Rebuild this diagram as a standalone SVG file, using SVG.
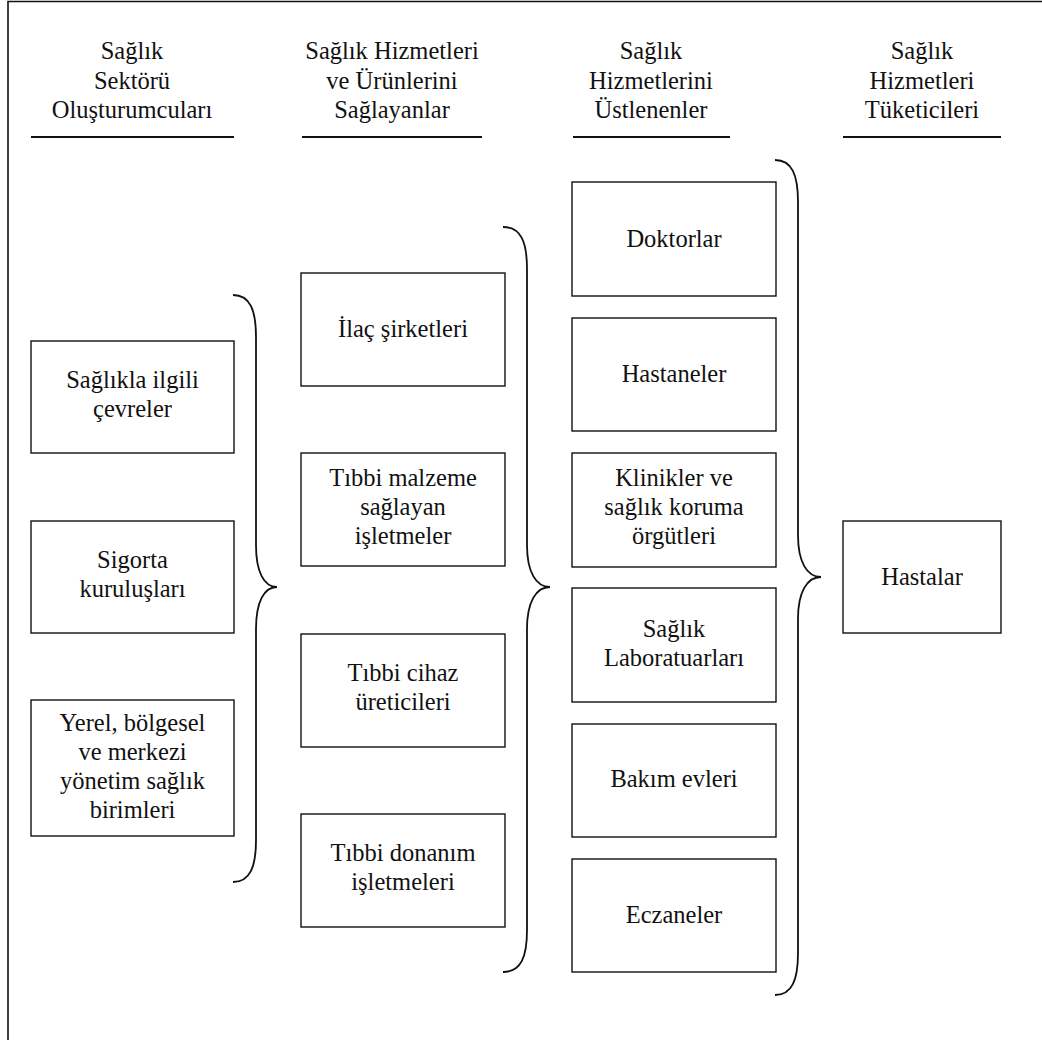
<svg xmlns="http://www.w3.org/2000/svg" width="1042" height="1040" viewBox="0 0 1042 1040">
<style>
text{font-family:'Liberation Serif','Times New Roman',serif;font-size:24.5px;fill:#111;text-anchor:middle}
.box{fill:#fff;stroke:#111;stroke-width:1.4}
.ul{stroke:#111;stroke-width:2}
.brace{fill:none;stroke:#111;stroke-width:1.8}
.frame{fill:none;stroke:#111;stroke-width:1.6}
</style>
<rect width="1042" height="1040" fill="#fff"/>
<path class="frame" d="M8 1040 V1.5 H1042"/>
<g id="header1"><text x="132" y="59">Sağlık</text><text x="132" y="89">Sektörü</text><text x="132" y="118">Oluşturumcuları</text><line class="ul" x1="31" y1="137" x2="234" y2="137"/></g>
<g id="header2"><text x="392" y="59">Sağlık Hizmetleri</text><text x="392" y="89">ve Ürünlerini</text><text x="392" y="118">Sağlayanlar</text><line class="ul" x1="302" y1="137" x2="482" y2="137"/></g>
<g id="header3"><text x="651" y="59">Sağlık</text><text x="651" y="89">Hizmetlerini</text><text x="651" y="118">Üstlenenler</text><line class="ul" x1="573" y1="137" x2="730" y2="137"/></g>
<g id="header4"><text x="922" y="59">Sağlık</text><text x="922" y="89">Hizmetleri</text><text x="922" y="118">Tüketicileri</text><line class="ul" x1="843" y1="137" x2="1001" y2="137"/></g>

<g id="n-saglikla"><rect class="box" x="31" y="341" width="203" height="112"/><text x="132.5" y="388">Sağlıkla ilgili</text><text x="132.5" y="417">çevreler</text></g>
<g id="n-sigorta"><rect class="box" x="31" y="521" width="203" height="112"/><text x="132.5" y="568">Sigorta</text><text x="132.5" y="597">kuruluşları</text></g>
<g id="n-yerel"><rect class="box" x="31" y="700" width="203" height="136"/><text x="132.5" y="731">Yerel, bölgesel</text><text x="132.5" y="760">ve merkezi</text><text x="132.5" y="789">yönetim sağlık</text><text x="132.5" y="818">birimleri</text></g>

<g id="n-ilac"><rect class="box" x="301" y="273" width="204" height="113"/><text x="403" y="337">İlaç şirketleri</text></g>
<g id="n-malzeme"><rect class="box" x="301" y="453" width="204" height="113"/><text x="403" y="486">Tıbbi malzeme</text><text x="403" y="515">sağlayan</text><text x="403" y="544">işletmeler</text></g>
<g id="n-cihaz"><rect class="box" x="301" y="634" width="204" height="113"/><text x="403" y="681">Tıbbi cihaz</text><text x="403" y="710">üreticileri</text></g>
<g id="n-donanim"><rect class="box" x="301" y="814" width="204" height="113"/><text x="403" y="861">Tıbbi donanım</text><text x="403" y="890">işletmeleri</text></g>

<g id="n-doktorlar"><rect class="box" x="572" y="182" width="204" height="114"/><text x="674" y="247">Doktorlar</text></g>
<g id="n-hastaneler"><rect class="box" x="572" y="318" width="204" height="113"/><text x="674" y="382">Hastaneler</text></g>
<g id="n-klinikler"><rect class="box" x="572" y="453" width="204" height="114"/><text x="674" y="486">Klinikler ve</text><text x="674" y="515">sağlık koruma</text><text x="674" y="544">örgütleri</text></g>
<g id="n-lab"><rect class="box" x="572" y="588" width="204" height="114"/><text x="674" y="637">Sağlık</text><text x="674" y="666">Laboratuarları</text></g>
<g id="n-bakim"><rect class="box" x="572" y="724" width="204" height="113"/><text x="674" y="787">Bakım evleri</text></g>
<g id="n-eczaneler"><rect class="box" x="572" y="859" width="204" height="113"/><text x="674" y="923">Eczaneler</text></g>

<g id="n-hastalar"><rect class="box" x="843" y="521" width="158" height="112"/><text x="922" y="585">Hastalar</text></g>

<g id="connectors">
<path class="brace" d="M233 295 C250 295,256 310,256 337 L256 545 C256 572,264 587,277 587 C264 587,256 602,256 629 L256 840 C256 867,250 882,233 882"/>
<path class="brace" d="M503 227 C521 227,527 242,527 269 L527 545 C527 572,536 587,550 587 C536 587,527 602,527 629 L527 930 C527 957,521 972,503 972"/>
<path class="brace" d="M775 160 C792 160,798 175,798 202 L798 535 C798 562,807 577,821 577 C807 577,798 592,798 619 L798 953 C798 980,792 995,775 995"/>
</g>
</svg>
